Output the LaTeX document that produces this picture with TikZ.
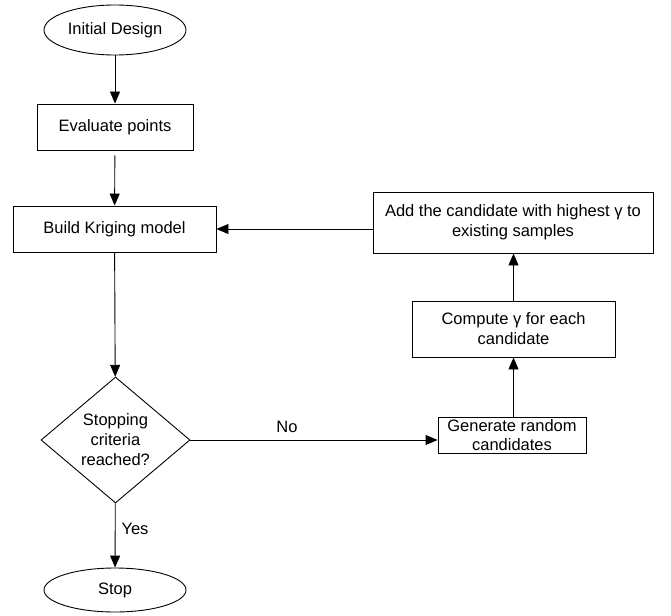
\documentclass[tikz,border=0pt]{standalone}
\usepackage{fontspec}
\setmainfont{Liberation Sans}
\usetikzlibrary{shapes.geometric,arrows.meta}
\begin{document}
\begin{tikzpicture}[x=1pt,y=-1pt,
  every node/.style={font=\fontsize{16.5}{20}\selectfont, inner sep=0pt},
  term/.style={draw, ellipse, line width=0.9pt, minimum width=142pt},
  proc/.style={draw, rectangle, line width=0.9pt, align=center},
  dec/.style={draw, diamond, line width=0.9pt, align=center, aspect=1.18, minimum width=149pt, minimum height=126pt},
  arr/.style={-{Triangle[length=12pt,width=10pt]}, line width=0.9pt},
  lab/.style={font=\fontsize{16.5}{20}\selectfont}]
\useasboundingbox (0,0) rectangle (671,615);
\node[term, minimum height=50pt] (init) at (115,30) {Initial Design};
\node[proc, minimum width=156pt, minimum height=46pt] (eval) at (115,127) {Evaluate points};
\node[proc, minimum width=203pt, minimum height=46pt] (build) at (114.5,229) {Build Kriging model};
\node[dec] (dec) at (115.5,440) {Stopping\\criteria\\reached?};
\node[term, minimum height=44pt] (stop) at (115,590) {Stop};
\node[proc, minimum width=148pt, minimum height=36pt, font=\fontsize{16.5}{19}\selectfont] (gen) at (512,435) {Generate random\\candidates};
\node[proc, minimum width=203pt, minimum height=56pt] (comp) at (513.5,329) {Compute γ for each\\candidate};
\node[proc, minimum width=280pt, minimum height=61pt] (add) at (513,222.5) {Add the candidate with highest γ to\\existing samples};
\node[lab] (no) at (287,427) {No};
\node[lab] (yes) at (135,529) {Yes};
\draw[arr] (init) -- (eval);
\draw[arr, shorten <=5pt] (eval) -- (build);
\draw[arr] (build) -- (dec);
\draw[arr] (dec) -- (stop);
\draw[arr] (dec.east) -- (dec.east -| gen.west);
\draw[arr] (gen.north -| comp.south) -- (comp.south);
\draw[arr] (comp) -- (comp.center |- add.south);
\draw[arr] (build.east -| add.west) -- (build.east);
\end{tikzpicture}
\end{document}
